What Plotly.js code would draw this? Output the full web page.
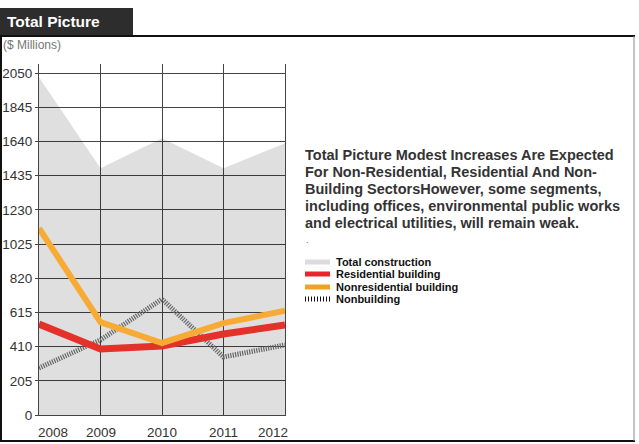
<!DOCTYPE html>
<html>
<head>
<meta charset="utf-8">
<script src="https://cdn.plot.ly/plotly-3.0.1.min.js"></script>
<style>
html,body{margin:0;padding:0;background:#fff;}
#chart{width:639px;height:444px;}
</style>
</head>
<body>
<div id="chart"></div>
<script>
// ---- data ----
const years = [2008, 2009, 2010, 2011, 2012];
const totalConstruction = [2025, 1480, 1660, 1480, 1630];
const residential = [545, 396, 414, 486, 540];
const nonresidential = [1120, 557, 432, 551, 625];
const nonbuilding = [282, 450, 695, 348, 420];
const yTicks = [0, 205, 410, 615, 820, 1025, 1230, 1435, 1640, 1845, 2050];
const seriesNames = ["Total construction", "Residential building", "Nonresidential building", "Nonbuilding"];
const headerTitle = "Total Picture";
const unitLabel = "($ Millions)";
const descriptionLines = [
  "Total Picture Modest Increases Are Expected",
  "For Non-Residential, Residential And Non-",
  "Building SectorsHowever, some segments,",
  "including offices, environmental public works",
  "and electrical utilities, will remain weak."
];

// ---- layout helpers (pixel -> paper) ----
const L = 39, R = 285, T = 64, B = 415;
const px = x => (x - L) / (R - L);
const py = y => (B - y) / (B - T);

const FONT = "Liberation Sans, Arial, Helvetica, sans-serif";

const traces = [
  {x: years, y: totalConstruction, type: "scatter", mode: "lines", name: seriesNames[0],
   fill: "tozeroy", fillcolor: "rgba(0,0,0,0.125)", line: {width: 0, color: "rgba(0,0,0,0)"}},
  {x: years, y: nonbuilding, type: "scatter", mode: "lines", name: seriesNames[3],
   line: {color: "#666", width: 5, dash: "1.2px,1.2px"}},
  {x: years, y: residential, type: "scatter", mode: "lines", name: seriesNames[1],
   line: {color: "#e4322b", width: 7}},
  {x: years, y: nonresidential, type: "scatter", mode: "lines", name: seriesNames[2],
   line: {color: "#f7ab34", width: 6}}
];

const xShift = [14, 0, 0, 0, -12];
const annotations = years.map((yr, i) => ({
  x: yr, xref: "x", y: py(432), yref: "paper", yanchor: "middle", xanchor: "center",
  text: String(yr), showarrow: false,
  xshift: xShift[i], font: {family: FONT, size: 13.5, color: "#333"}
}));

annotations.push({
  x: px(5), y: py(22), xref: "paper", yref: "paper", xanchor: "left", yanchor: "middle",
  text: "<b>" + headerTitle + "</b>", showarrow: false,
  font: {family: FONT, size: 15.5, color: "#fff"}
});
annotations.push({
  x: px(1), y: py(45), xref: "paper", yref: "paper", xanchor: "left", yanchor: "middle",
  text: unitLabel, showarrow: false, font: {family: FONT, size: 12, color: "#777"}
});
descriptionLines.forEach((ln, i) => {
  annotations.push({
    x: px(303), y: py(155 + 17 * i), xref: "paper", yref: "paper", xanchor: "left", yanchor: "middle",
    align: "left", text: "<b>" + ln + "</b>", showarrow: false,
    font: {family: FONT, size: 14.5, color: "#333"}
  });
});
annotations.push({
  x: px(304), y: py(240), xref: "paper", yref: "paper", xanchor: "left", yanchor: "middle",
  text: ".", showarrow: false, font: {family: FONT, size: 9, color: "#666"}
});

const legendY = [262, 274, 287, 299];
const legendStyle = [
  {color: "#dcdcdc", dash: "solid"},
  {color: "#e8252b", dash: "solid"},
  {color: "#eca423", dash: "solid"},
  {color: "#111", dash: "1px,2px"}
];
const shapes = [];
seriesNames.forEach((nm, i) => {
  annotations.push({
    x: px(334), y: py(legendY[i]), xref: "paper", yref: "paper", xanchor: "left", yanchor: "middle",
    text: "<b>" + nm + "</b>", showarrow: false, font: {family: FONT, size: 11, color: "#111"}
  });
  shapes.push({
    type: "line", xref: "paper", yref: "paper", x0: px(305), x1: px(330),
    y0: py(legendY[i]), y1: py(legendY[i]),
    line: {color: legendStyle[i].color, width: 5, dash: legendStyle[i].dash}
  });
});

// header box and frame
shapes.push({type: "rect", xref: "paper", yref: "paper", x0: px(0), x1: px(133), y0: py(36), y1: py(8),
  fillcolor: "#2d2d2d", line: {width: 0}});
shapes.push({type: "line", xref: "paper", yref: "paper", x0: px(0), x1: px(635), y0: py(36), y1: py(36),
  line: {color: "#111", width: 2}});
shapes.push({type: "line", xref: "paper", yref: "paper", x0: px(1), x1: px(1), y0: py(36), y1: py(441),
  line: {color: "#111", width: 2}});
shapes.push({type: "line", xref: "paper", yref: "paper", x0: px(0), x1: px(635), y0: py(441), y1: py(441),
  line: {color: "#111", width: 2}});
shapes.push({type: "line", xref: "paper", yref: "paper", x0: px(634), x1: px(634), y0: py(36), y1: py(441),
  line: {color: "#888", width: 1}});

const layout = {
  width: 639, height: 444,
  margin: {l: L, r: 639 - R, t: T, b: 444 - B, pad: 0},
  paper_bgcolor: "#fff", plot_bgcolor: "#fff",
  showlegend: false,
  font: {family: FONT, color: "#333"},
  xaxis: {range: [2008, 2012], tickvals: years, showticklabels: false, ticks: "",
    showgrid: true, gridcolor: "#444", gridwidth: 1, zeroline: false,
    showline: true, linecolor: "#444", linewidth: 1, fixedrange: true},
  yaxis: {range: [0, 2105], tickvals: yTicks, ticktext: yTicks.map(String),
    ticks: "outside", ticklen: 3, tickcolor: "#444", tickwidth: 1,
    tickfont: {family: FONT, size: 13.5, color: "#333"},
    showgrid: true, gridcolor: "#444", gridwidth: 1, zeroline: false,
    showline: true, mirror: true, linecolor: "#444", linewidth: 1, fixedrange: true},
  annotations: annotations,
  shapes: shapes
};

Plotly.newPlot("chart", traces, layout, {displayModeBar: false, staticPlot: true});
</script>
</body>
</html>
